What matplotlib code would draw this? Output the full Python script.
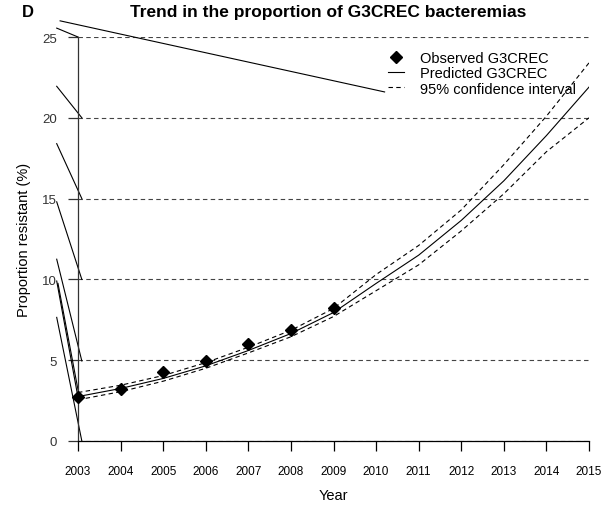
import matplotlib
matplotlib.use("Agg")
import matplotlib.pyplot as plt

plt.rcParams['font.family'] = ['Liberation Sans', 'DejaVu Sans']

# Observed proportions of G3CREC bacteremias (%)
obs_years = [2003, 2004, 2005, 2006, 2007, 2008, 2009]
obs_values = [2.7, 3.2, 4.3, 4.95, 6.0, 6.85, 8.2]

# Model prediction with its 95% confidence band
pred_years = [2003, 2004, 2005, 2006, 2007, 2008, 2009,
              2010, 2011, 2012, 2013, 2014, 2015]
pred_values = [2.75, 3.25, 3.87, 4.65, 5.6, 6.65, 7.95,
               9.75, 11.5, 13.65, 16.1, 18.9, 21.9]
ci_upper = [3.0, 3.45, 4.05, 4.85, 5.8, 6.85, 8.2,
            10.3, 12.1, 14.3, 17.1, 20.1, 23.4]
ci_lower = [2.55, 3.05, 3.7, 4.5, 5.45, 6.45, 7.7,
            9.3, 10.9, 13.0, 15.3, 17.9, 20.0]

y_ticks = [0, 5, 10, 15, 20, 25]

# stray connector strokes from the exported figure: (x0, y0, x1, y1)
stray_lines = [
    (2002.58, 26.0, 2010.2, 21.6),
    (2002.5, 25.55, 2003.0, 25.0),
    (2002.5, 21.95, 2003.09, 20.0),
    (2002.5, 18.4, 2003.09, 15.0),
    (2002.5, 14.8, 2003.09, 10.0),
    (2002.5, 11.25, 2003.09, 4.95),
    (2002.5, 9.9, 2003.0, 2.7),
    (2002.53, 9.75, 2003.03, 2.75),
    (2002.5, 7.65, 2003.09, 0.0),
]

fig = plt.figure(figsize=(6.07, 5.06), dpi=100)
ax = fig.add_axes([78 / 607, 64 / 506, 511 / 607, 404 / 506])

ax.set_xlim(2003, 2015)
ax.set_ylim(0, 25)

# horizontal dashed reference lines
for yv in y_ticks:
    ax.axhline(yv, color='#444444', lw=0.8, dashes=(4, 3), zorder=1)

ax.plot(pred_years, ci_upper, color='black', lw=0.8, dashes=(4, 3),
        label='95% confidence interval', zorder=3)
ax.plot(pred_years, ci_lower, color='black', lw=0.8, dashes=(4, 3), zorder=3)
ax.plot(pred_years, pred_values, color='black', lw=0.8,
        label='Predicted G3CREC', zorder=3)
ax.plot(obs_years, obs_values, 'D', color='black', ms=6.5,
        label='Observed G3CREC', zorder=4, clip_on=False)

for x0, y0, x1, y1 in stray_lines:
    ax.plot([x0, x1], [y0, y1], color='black', lw=0.8, clip_on=False, zorder=2)

for side in ['top', 'right']:
    ax.spines[side].set_visible(False)
ax.spines['left'].set_color('#333333')
ax.spines['left'].set_linewidth(0.9)
ax.spines['bottom'].set_linewidth(0.9)

ax.set_xticks(pred_years)
ax.set_yticks(y_ticks)
ax.tick_params(axis='x', direction='out', length=7, width=0.9,
               pad=10, labelsize=8.5)
ax.tick_params(axis='y', direction='out', length=7, width=0.9,
               pad=8, labelsize=9.5, colors='#333333')

ax.set_xlabel('Year', fontsize=10.5, labelpad=8)
ax.set_ylabel('Proportion resistant (%)', fontsize=10.5, labelpad=8)

fig.text(0.54, 0.975, 'Trend in the proportion of G3CREC bacteremias',
         ha='center', va='center', fontsize=12.5, fontweight='bold')
fig.text(0.046, 0.975, 'D', ha='center', va='center',
         fontsize=12, fontweight='bold')

handles, labels = ax.get_legend_handles_labels()
order = [2, 1, 0]
ax.legend([handles[i] for i in order], [labels[i] for i in order],
          loc='upper right', bbox_to_anchor=(0.995, 0.99), frameon=False,
          fontsize=10.5, handlelength=1.1, handletextpad=1.1,
          labelspacing=0.08, borderaxespad=0.3)

fig.savefig('out.png', dpi=100)
